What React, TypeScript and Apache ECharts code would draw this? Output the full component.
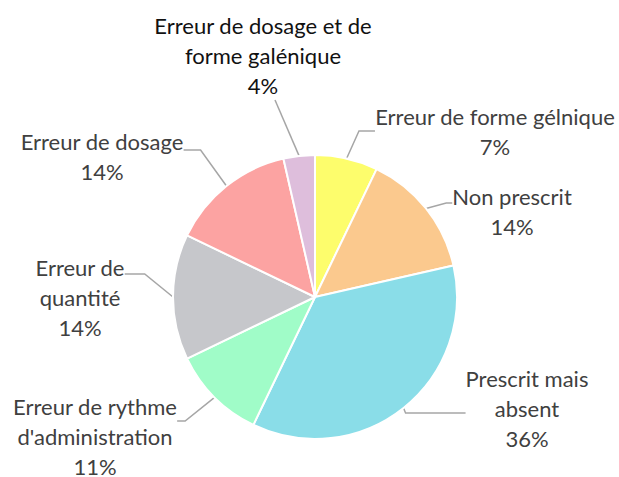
import React, { useEffect, useRef } from "react";
import * as echarts from "echarts";

const categories = [
  "Erreur de forme gélnique",
  "Non prescrit",
  "Prescrit mais\nabsent",
  "Erreur de rythme\nd'administration",
  "Erreur de\nquantité",
  "Erreur de dosage",
  "Erreur de dosage et de\nforme galénique",
];
const counts = [2, 4, 10, 3, 4, 4, 1];
const colors = ["#FDFD6C", "#FBC98E", "#8ADDE8", "#A0FCC8", "#C6C7CB", "#FCA3A2", "#DEBEDC"];
const labelColors = ["#404040", "#404040", "#404040", "#404040", "#404040", "#404040", "#111111"];

// Layout: text block centers; invisible gaps [top, right spacer, bottom] to steer guide attach points; guide length2
const labelCenters: [number, number][] = [
  [495, 131],
  [512, 211],
  [527, 408],
  [95, 436],
  [80, 297],
  [102, 156],
  [263, 55],
];
const labelGaps: [number, number, number][] = [
  [0, 0, 0],
  [16, 0, 0],
  [0, 0, 10],
  [30, 0, 0],
  [46, 0, 0],
  [12, 0, 0],
  [0, 24, 0],
];
const guideLen2 = [16, 6, 60, 8, 20, 17, 0];

// widened series viewport so the library does not truncate labels
const VIEW_PAD = 400;

export default function App() {
  const ref = useRef<HTMLDivElement>(null);
  useEffect(() => {
    document.body.style.margin = "0";
    const chart = echarts.init(ref.current!, undefined, { renderer: "svg" });
    const rich: Record<string, any> = {};
    labelGaps.forEach((g, i) => {
      rich[`gt${i}`] = { fontSize: 1, lineHeight: Math.max(g[0], 1) };
      rich[`gb${i}`] = { fontSize: 1, lineHeight: Math.max(g[2], 1) };
      rich[`sp${i}`] = { fontSize: 1, width: g[1] };
    });
    chart.setOption({
      animation: false,
      backgroundColor: "#ffffff",
      series: [
        {
          type: "pie",
          left: -VIEW_PAD,
          right: -VIEW_PAD,
          top: 0,
          bottom: 0,
          center: [315 + VIEW_PAD, 297],
          radius: 142,
          startAngle: 90,
          clockwise: true,
          data: categories.map((name, i) => ({
            name,
            value: counts[i],
            itemStyle: { color: colors[i] },
            label: { color: labelColors[i] },
            labelLine: { length2: guideLen2[i] },
          })),
          itemStyle: { borderColor: "#ffffff", borderWidth: 2 },
          label: {
            show: true,
            position: "outside",
            formatter: (p: any) => {
              const i = p.dataIndex;
              const g = labelGaps[i];
              let lines: string[] = [...String(p.name).split("\n"), `${Math.round(p.percent)}%`];
              if (g[1]) lines = lines.map((l) => `${l}{sp${i}|\u00a0}`);
              let s = lines.join("\n");
              if (g[0]) s = `{gt${i}|\u00a0}\n${s}`;
              if (g[2]) s = `${s}\n{gb${i}|\u00a0}`;
              return s;
            },
            fontFamily: "Lato, 'Open Sans', sans-serif",
            fontSize: 22,
            lineHeight: 30,
            align: "center",
            overflow: "none",
            rich,
          },
          labelLine: {
            show: true,
            length: 15,
            length2: 10,
            minTurnAngle: 0,
            lineStyle: { color: "#A6A6A6", width: 1.5 },
          },
          labelLayout: (params: any) => {
            const i = params.dataIndex;
            const c = labelCenters[i];
            const g = labelGaps[i];
            return {
              x: c[0] + g[1] / 2,
              y: c[1] + (g[2] - g[0]) / 2,
              align: "center",
              verticalAlign: "middle",
            };
          },
        },
      ],
    });
    return () => chart.dispose();
  }, []);
  return <div ref={ref} style={{ width: 619, height: 477 }} />;
}
